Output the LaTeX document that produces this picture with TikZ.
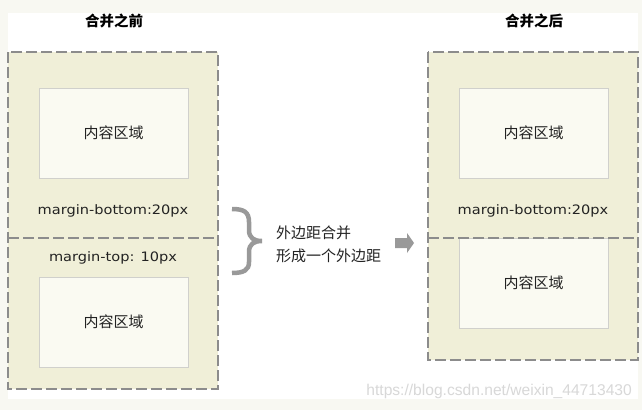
\documentclass[tikz,border=0pt]{standalone}
\usepackage{fontspec}
\newfontfamily\cjk{Noto Sans CJK SC}
\newfontfamily\lat[FakeStretch=1.12]{DejaVu Sans}
\newfontfamily\wm{Liberation Sans}
\definecolor{framecol}{HTML}{F8F8F2}
\definecolor{outerfill}{HTML}{F0EFD8}
\definecolor{innerfill}{HTML}{FAFAF2}
\definecolor{innerline}{HTML}{D0D0CC}
\definecolor{dashline}{HTML}{8C8C8C}
\definecolor{markgray}{HTML}{999999}
\definecolor{wmgray}{HTML}{D8D8D8}
\definecolor{textcol}{HTML}{222222}
\begin{document}
\begin{tikzpicture}[x=1pt,y=-1pt,
  outerbox/.style={fill=outerfill,draw=dashline,line width=1.3pt,dash pattern=on 11pt off 4pt},
  divider/.style={draw=dashline,line width=1.3pt,dash pattern=on 11pt off 4pt},
  content/.style={draw=innerline,fill=innerfill,line width=1pt,minimum width=149pt,minimum height=90pt,inner sep=0pt,text=textcol,font=\cjk\fontsize{15}{17}\selectfont},
  cjklabel/.style={font=\cjk\fontsize{15}{17}\selectfont,inner sep=0pt,text=textcol},
  titlelabel/.style={font=\cjk\bfseries\fontsize{14.5}{17}\selectfont,inner sep=0pt,text=black},
  marginlabel/.style={font=\lat\fontsize{13}{16}\selectfont,inner sep=0pt,text=textcol},
  markshape/.style={fill=markgray,draw=none},
  bracestyle/.style={draw=markgray,line width=4.5pt,line cap=butt}
]
\useasboundingbox (0,0) rectangle (642,410);
\fill[framecol] (0,0) rectangle (642,410);
\fill[white] (8,13) rectangle (638,399);

% titles
\node[titlelabel] (t1) at (114,21) {合并之前};
\node[titlelabel] (t2) at (534,21) {合并之后};

% left: before merge
\path[outerbox] (8,52) rectangle (218,389);
\draw[divider] (8,238) -- (218,238);
\node[content] (l1) at (113.5,133) {内容区域};
\node[content] (l2) at (113.5,322) {内容区域};
\node[marginlabel] (lb) at (113,211) {margin-bottom:20px};
\node[marginlabel] (lt) at (113,258) {margin-top: 10px};

% right: after merge
\path[outerbox] (428,52) rectangle (638,360);
\node[content] (r1) at (533.5,133) {内容区域};
\node[content] (r2) at (533.5,283) {内容区域};
\draw[divider] (428,238) -- (638,238);
\node[marginlabel] (rb) at (533,211) {margin-bottom:20px};

% brace
\draw[bracestyle] (232,209) .. controls (244,209) and (249,212) .. (249,222)
  -- (249,230) .. controls (249,238) and (254,241) .. (262,241)
  .. controls (254,241) and (249,244) .. (249,252)
  -- (249,262) .. controls (249,270) and (244,273) .. (232,273);

% middle text
\node[cjklabel,anchor=west] (m1) at (276,233) {外边距合并};
\node[cjklabel,anchor=west] (m2) at (276,256) {形成一个外边距};

% arrow
\fill[markshape] (395,238) -- (407,238) -- (407,233) -- (414,243) -- (407,253) -- (407,248) -- (395,248) -- cycle;

% watermark
\node[font=\wm\fontsize{15.6}{17}\selectfont,text=wmgray,anchor=east,inner sep=0pt] (wm) at (632,391) {https://blog.csdn.net/weixin\_44713430};
\end{tikzpicture}
\end{document}
